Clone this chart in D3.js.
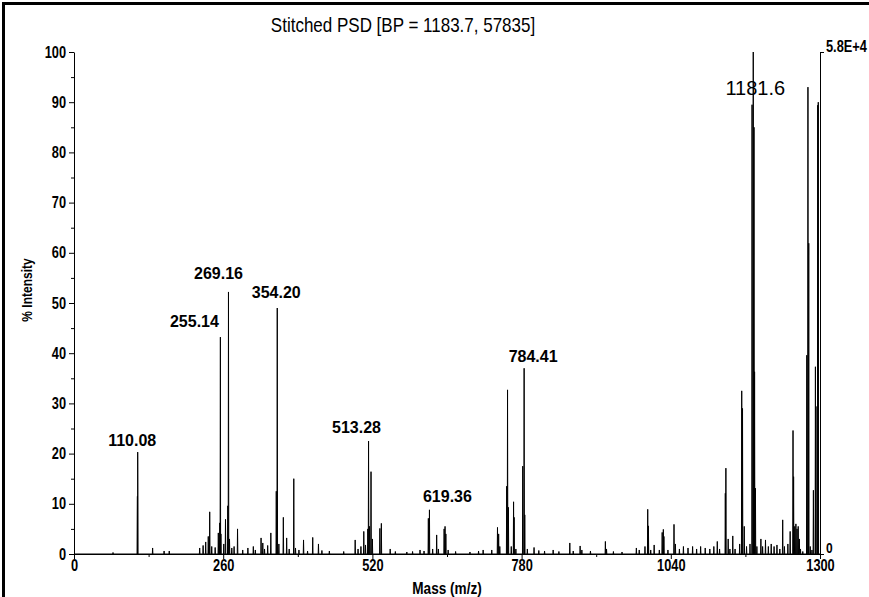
<!DOCTYPE html>
<html>
<head>
<meta charset="utf-8">
<script src="https://cdn.jsdelivr.net/npm/d3@7"></script>
<style>
    body { margin: 0; background: #fff; }
    svg { display: block; }
    text { font-family: "Liberation Sans", Arial, sans-serif; fill: #000; }
</style>
</head>
<body>
<svg id="chart" width="869" height="597"></svg>
<script>
const title = 'Stitched PSD [BP = 1183.7, 57835]';
const xLabel = 'Mass (m/z)';
const yLabel = '% Intensity';
const xTicks = [0, 260, 520, 780, 1040, 1300];
const xMinorTicks = [130, 390, 650, 910, 1170];
const yTicks = [0, 10, 20, 30, 40, 50, 60, 70, 80, 90, 100];
const yMinorTicks = [5, 15, 25, 35, 45, 55, 65, 75, 85, 95];
const rightTickText = ['0', '5.8E+4'];

// peak list: m/z and % intensity
const peakMass = [
    68, 110.5, 111, 137, 157, 166,
    219, 225, 229.5, 234, 236.5, 240, 246, 251.5, 254, 255.1, 256, 261, 264, 268, 269.2, 271, 275, 279, 285,
    294, 303, 312.5, 316, 326, 329, 332, 337.5, 343, 352.5, 354.2, 357, 364.8, 370.6, 375, 383, 386, 392,
    400, 407, 416, 426, 432, 445, 470, 490, 495, 500, 505, 508, 512, 513.3, 515, 517.6, 520, 533, 535.6,
    551, 560, 580, 590, 603, 610, 617.5, 619.4, 625, 632, 635, 645, 646.6, 648, 652, 665, 690, 705, 713,
    728, 738, 740, 742, 754, 755.5, 757, 762, 766, 767, 770, 782, 784.4, 785.5, 790, 801.7, 810, 820, 835,
    845, 864, 870, 882, 885, 900, 926, 928, 940, 955, 980, 985, 995, 999.8, 1001, 1005, 1011, 1020, 1025,
    1027, 1028, 1035, 1045.6, 1048, 1055, 1062, 1070, 1078, 1085, 1092, 1100, 1108, 1115, 1121, 1125,
    1135, 1136, 1140, 1143, 1148, 1152, 1160, 1163.6, 1165, 1168, 1172, 1178, 1181.6, 1183.7, 1185, 1186,
    1187.5, 1190, 1197, 1200, 1205, 1210, 1215, 1220, 1225, 1230, 1235, 1238, 1244, 1248, 1253, 1254,
    1256, 1258, 1260, 1262, 1264, 1266, 1270, 1277, 1279, 1280.4, 1283, 1286, 1288.5, 1292, 1293, 1296, 1297
];
const peakIntensity = [
    0.3, 11.5, 20.3, 1.2, 0.6, 0.6,
    1.2, 1.7, 2.4, 3.5, 8.4, 1.5, 1.3, 4.2, 6.2, 43.2, 4, 2, 6.9, 9.6, 52.2, 3, 1.2, 1.5, 5.0,
    0.8, 1.2, 1.5, 0.8, 3.2, 2.2, 1, 1.7, 4.2, 12.5, 49, 2, 7.3, 3.2, 1, 15, 1.2, 0.8,
    2.8, 0.6, 3.3, 2, 0.7, 0.6, 0.5, 2.8, 1, 1.5, 4.5, 1.8, 5, 22.5, 5.5, 16.4, 3, 5.1, 6.1,
    1, 0.5, 0.4, 0.5, 0.8, 0.6, 7.1, 8.8, 1, 3.8, 1, 5, 5.5, 4, 0.8, 0.5, 0.4, 0.6, 0.8,
    0.8, 5.3, 4, 1.5, 13.5, 32.7, 9.3, 1.5, 10.4, 7.3, 1, 17.5, 37, 7.8, 1, 1.3, 0.7, 0.6, 0.8,
    0.5, 2.2, 0.6, 1.6, 0.8, 0.6, 2.5, 1, 0.5, 0.4, 1.2, 0.8, 1.5, 8.9, 5.6, 0.8, 1.8, 0.8, 4.3,
    4.9, 3.5, 0.8, 5.9, 2, 1, 1.5, 1.2, 1.5, 1, 1.5, 1.2, 1, 1.5, 2.5, 1,
    12.1, 17.1, 3, 1, 3.6, 1, 2, 32.5, 29, 5.5, 1.5, 2, 89.5, 100, 85, 36.3,
    13.1, 1.5, 3, 1.5, 2.8, 1.5, 2, 1.5, 1.8, 1, 6.8, 1.5, 2, 4.5, 24.6, 15.4,
    5.5, 6, 5, 5.5, 3, 1, 0.5, 39.6, 93, 61.9, 1.5, 0.8, 12.7, 37.3, 29.4, 89.4, 90
];

const labelMass = [110.08, 255.14, 269.16, 354.20, 513.28, 619.36, 784.41, 1183.7];
const labelIntensity = [20.3, 43.2, 52.2, 49, 22.5, 8.8, 37, 100];
const labelText = ['110.08', '255.14', '269.16', '354.20', '513.28', '619.36', '784.41', '1181.6'];
// nudges so labels sit where the instrument software put them
const labelShift = [[-5, -6], [-26, -10], [-10, -13], [-1, -10], [-12, -8], [18, -8], [9, -6], [2, 43]];

const svg = d3.select('#chart');
const x = d3.scaleLinear().domain([0, 1300]).range([74, 820]);
const y = d3.scaleLinear().domain([0, 100]).range([554, 52]);

// the instrument font is a condensed sans, so squeeze regular glyphs horizontally
function squeeze(sel, sx) {
    sel.each(function () {
        const t = d3.select(this);
        const tx = +t.attr('x') || 0;
        const ty = +t.attr('y') || 0;
        t.attr('x', 0).attr('y', 0)
            .attr('transform', `translate(${tx},${ty}) scale(${sx},1)`);
    });
}

// outer frame
svg.append('rect')
    .attr('x', 3.5).attr('y', 3.5)
    .attr('width', 900).attr('height', 700)
    .attr('fill', 'none').attr('stroke', '#000').attr('stroke-width', 3);

svg.append('text')
    .attr('x', 403).attr('y', 32)
    .attr('text-anchor', 'middle')
    .attr('font-size', 20)
    .attr('font-weight', 'normal')
    .call(squeeze, 0.85)
    .text(title);

// spectrum trace
const points = [[0, 0]];
peakMass.forEach((m, i) => {
    points.push([m - 0.5, 0], [m, peakIntensity[i]], [m + 0.5, 0]);
});
points.push([1300, 0]);
points.sort((a, b) => a[0] - b[0]);

const line = d3.line().x((d) => x(d[0])).y((d) => y(d[1]));
svg.append('path')
    .datum(points)
    .attr('d', line)
    .attr('fill', 'none')
    .attr('stroke', '#000')
    .attr('stroke-width', 1);

function styleAxis(g, size) {
    g.selectAll('text')
        .attr('font-size', size)
        .attr('font-weight', 'bold')
        .attr('fill', '#000')
        .call(squeeze, 0.8);
    g.selectAll('line, path').attr('stroke', '#000');
}

const yAxis = svg.append('g')
    .attr('transform', 'translate(74,0)')
    .call(d3.axisLeft(y).tickValues(yTicks).tickSize(5).tickSizeOuter(0).tickPadding(3));
styleAxis(yAxis, 16);
svg.append('g')
    .attr('transform', 'translate(74,0)')
    .call(d3.axisLeft(y).tickValues(yMinorTicks).tickSize(3).tickFormat(''))
    .call((g) => g.select('.domain').remove())
    .selectAll('line').attr('stroke', '#000');

const xAxis = svg.append('g')
    .attr('transform', 'translate(0,554)')
    .call(d3.axisBottom(x).tickValues(xTicks).tickSize(5).tickSizeOuter(0).tickPadding(1)
        .tickFormat(d3.format('d')));
styleAxis(xAxis, 16);
svg.append('g')
    .attr('transform', 'translate(0,554)')
    .call(d3.axisBottom(x).tickValues(xMinorTicks).tickSize(3).tickFormat(''))
    .call((g) => g.select('.domain').remove())
    .selectAll('line').attr('stroke', '#000');

const rightAxis = svg.append('g')
    .attr('transform', 'translate(820,0)')
    .call(d3.axisRight(y).tickValues([0, 100]).tickSize(4).tickSizeOuter(0).tickPadding(2)
        .tickFormat((d, i) => rightTickText[i]));
styleAxis(rightAxis, 16);
rightAxis.selectAll('.tick text').filter((d) => d === 100)
    .attr('font-size', 16).attr('dy', '-0.05em');
rightAxis.selectAll('.tick text').filter((d) => d === 0)
    .attr('font-size', 15).attr('dy', '-0.1em');

svg.append('text')
    .attr('x', 447).attr('y', 594)
    .attr('text-anchor', 'middle')
    .attr('font-size', 16).attr('font-weight', 'bold')
    .call(squeeze, 0.85)
    .text(xLabel);

svg.append('text')
    .attr('transform', 'translate(32,290) rotate(-90) scale(0.8,1)')
    .attr('text-anchor', 'middle')
    .attr('font-size', 15).attr('font-weight', 'bold')
    .text(yLabel);

// peak annotations
svg.append('g').selectAll('text')
    .data(labelText)
    .join('text')
    .attr('x', (d, i) => x(labelMass[i]) + labelShift[i][0])
    .attr('y', (d, i) => y(labelIntensity[i]) + labelShift[i][1])
    .attr('text-anchor', 'middle')
    .attr('font-size', (d, i) => i === labelText.length - 1 ? 20 : 16)
    .attr('font-weight', (d, i) => i === labelText.length - 1 ? 'normal' : 'bold')
    .text((d) => d);
</script>
</body>
</html>
